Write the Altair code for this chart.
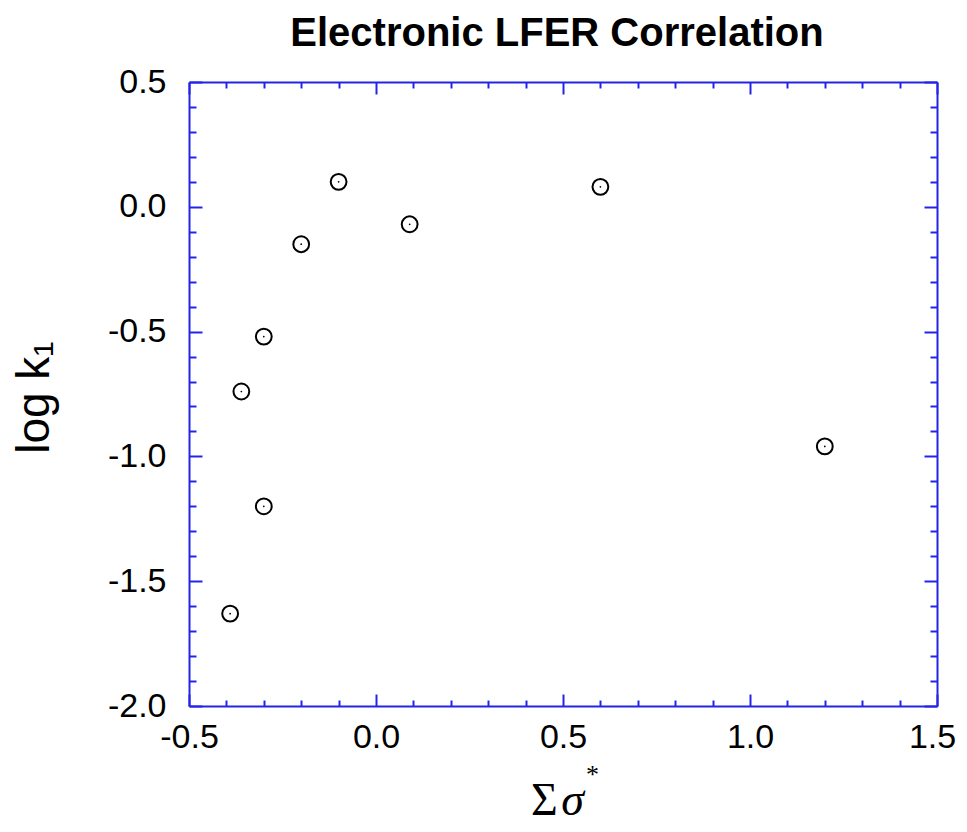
import altair as alt
import pandas as pd

# ---- data ----
sigma_star = [-0.39, -0.30, -0.36, -0.30, -0.20, -0.10, 0.09, 0.60, 1.20]
log_k1 = [-1.63, -1.20, -0.74, -0.52, -0.15, 0.10, -0.07, 0.08, -0.96]

x_major = [-0.5, 0.0, 0.5, 1.0, 1.5]
x_minor = [-0.4, -0.3, -0.2, -0.1, 0.1, 0.2, 0.3, 0.4,
           0.6, 0.7, 0.8, 0.9, 1.1, 1.2, 1.3, 1.4]
y_major = [-2.0, -1.5, -1.0, -0.5, 0.0, 0.5]
y_minor = [-1.9, -1.8, -1.7, -1.6, -1.4, -1.3, -1.2, -1.1,
           -0.9, -0.8, -0.7, -0.6, -0.4, -0.3, -0.2, -0.1,
           0.1, 0.2, 0.3, 0.4]

df = pd.DataFrame({"x": sigma_star, "y": log_k1})

BLUE = "#2424e8"
W, H = 748, 624
xs = alt.Scale(domain=[-0.5, 1.5], nice=False, zero=False)
ys = alt.Scale(domain=[-2.0, 0.5], nice=False, zero=False)
label_expr = "datum.value < 0 ? '-' + format(-datum.value, '.1f') : format(datum.value, '.1f')"

X_TITLE_BASE = 108  # baseline of the x title below the plot


def tick_axis(orient, offset, values, size, domain=False, **title_kw):
    kw = dict(orient=orient, offset=offset, values=values, tickSize=size,
              tickWidth=2, tickColor=BLUE, ticks=True, labels=False,
              domain=domain, domainColor=BLUE, domainWidth=2, grid=False,
              title="")
    kw.update(title_kw)
    return alt.Axis(**kw)


main_x = alt.Axis(orient="bottom", values=x_major, labelExpr=label_expr,
                  labelFont="Liberation Sans", labelFontSize=34, labelColor="black",
                  labelPadding=14, ticks=False, domain=True, domainColor=BLUE,
                  domainWidth=2, grid=False, labelFlush=False,
                  labelOffset=alt.condition("datum.value == 1.5", alt.value(-5), alt.value(0)),
                  title="Σ", titleFont="Liberation Serif", titleFontSize=46,
                  titleFontWeight="normal", titleColor="black",
                  titleBaseline="alphabetic", titleAlign="center",
                  titleX=355, titleY=X_TITLE_BASE)

main_y = alt.Axis(orient="left", values=y_major, labelExpr=label_expr,
                  labelFont="Liberation Sans", labelFontSize=34, labelColor="black",
                  labelPadding=23, ticks=False, domain=True, domainColor=BLUE,
                  domainWidth=2, grid=False, labelFlush=False,
                  title="log k₁", titleFont="Liberation Sans", titleFontSize=46,
                  titleFontWeight="normal", titleColor="black",
                  titleAngle=270, titleBaseline="alphabetic", titleAlign="center",
                  titleX=-141, titleY=315)

base = alt.Chart(df)

pts = base.mark_point(size=250, strokeWidth=2, color="black", filled=False, opacity=1).encode(
    x=alt.X("x:Q", scale=xs, axis=main_x),
    y=alt.Y("y:Q", scale=ys, axis=main_y),
)

dots = base.mark_circle(size=3, color="black", opacity=1).encode(
    x=alt.X("x:Q", scale=xs, axis=tick_axis(
        "top", -H, x_major, 12,
        title="σ", titleFont="Liberation Serif", titleFontSize=46,
        titleFontStyle="italic", titleFontWeight="normal", titleColor="black",
        titleBaseline="alphabetic", titleAlign="center",
        titleX=383, titleY=X_TITLE_BASE)),
    y=alt.Y("y:Q", scale=ys, axis=tick_axis("right", -W, y_major, 13)),
)

minor_in = base.mark_point(opacity=0).encode(
    x=alt.X("x:Q", scale=xs, axis=tick_axis(
        "top", -H, x_minor, 6,
        title="*", titleFont="Liberation Serif", titleFontSize=26,
        titleFontWeight="normal", titleColor="black",
        titleBaseline="alphabetic", titleAlign="center",
        titleX=403, titleY=X_TITLE_BASE - 32)),
    y=alt.Y("y:Q", scale=ys, axis=tick_axis("right", -W, y_minor, 7)),
)

major_far = base.mark_point(opacity=0).encode(
    x=alt.X("x:Q", scale=xs, axis=tick_axis("bottom", -H, x_major, 12, domain=True)),
    y=alt.Y("y:Q", scale=ys, axis=tick_axis("left", -W, y_major, 13, domain=True)),
)

minor_far = base.mark_point(opacity=0).encode(
    x=alt.X("x:Q", scale=xs, axis=tick_axis("bottom", -H, x_minor, 6)),
    y=alt.Y("y:Q", scale=ys, axis=tick_axis("left", -W, y_minor, 7)),
)

chart = (
    alt.layer(pts, dots, minor_in, major_far, minor_far)
    .resolve_axis(x="independent", y="independent")
    .properties(
        width=W,
        height=H,
        autosize="none",
        padding={"left": 181, "top": 74, "right": 20, "bottom": 118},
        title=alt.Title("Electronic LFER Correlation", font="Liberation Sans",
                        fontSize=40, fontWeight="bold", color="black",
                        anchor="middle", frame="group", baseline="alphabetic",
                        offset=18, dx=-6, dy=39),
    )
    .configure_view(stroke="transparent")
)

chart.save("out.html", embed_options={"renderer": "svg", "actions": False})
